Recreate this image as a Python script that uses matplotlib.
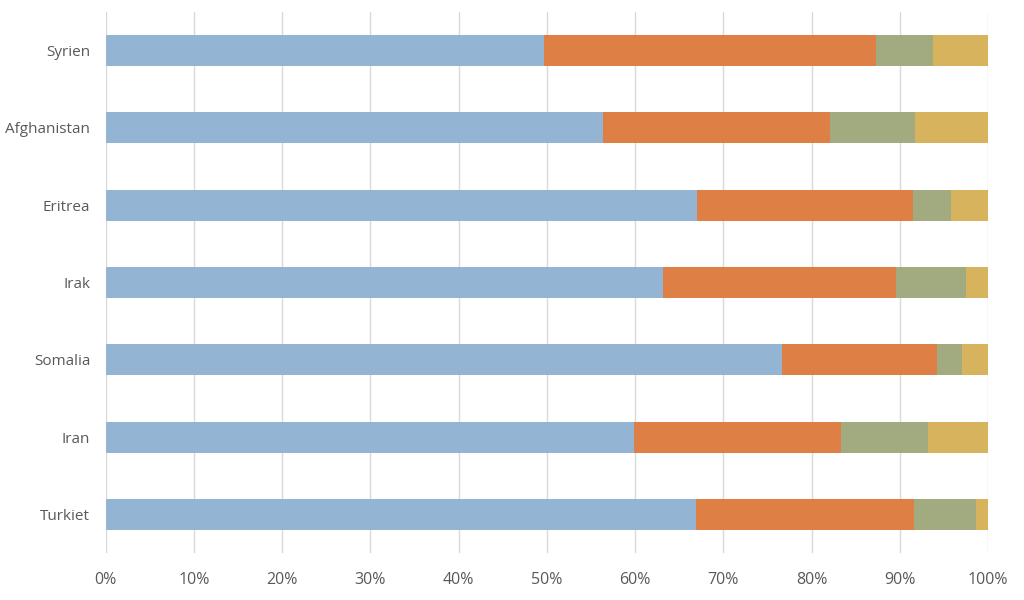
import numpy as np
import matplotlib.pyplot as plt
from matplotlib.ticker import PercentFormatter

plt.rcParams['font.family'] = ['Open Sans', 'DejaVu Sans']

# categories from top to bottom as in the picture
countries = ['Syrien', 'Afghanistan', 'Eritrea', 'Irak', 'Somalia', 'Iran', 'Turkiet']

# share per category (%)
serie_1 = [49.7, 56.4, 67.0, 63.2, 76.7, 59.9, 66.9]
serie_2 = [37.6, 25.7, 24.5, 26.4, 17.5, 23.4, 24.7]
serie_3 = [6.5, 9.6, 4.3, 7.9, 2.9, 9.9, 7.0]
serie_4 = [6.2, 8.3, 4.2, 2.5, 2.9, 6.8, 1.4]

colors = ['#93b5d3', '#de7f45', '#a2aa7f', '#d8b35e']

fig = plt.figure(figsize=(10.24, 6), dpi=100)
ax = fig.add_axes([105.5/1024, 47/600, 882.5/1024, 541/600])

y = np.arange(len(countries))
left = np.zeros(len(countries))
for vals, c in zip([serie_1, serie_2, serie_3, serie_4], colors):
    vals = np.array(vals)
    ax.barh(y, vals, left=left, height=0.4, color=c, zorder=3)
    left = left + vals

ax.set_xlim(0, 100)
ax.set_ylim(len(countries) - 0.5, -0.5)
ax.set_yticks(y)
ax.set_yticklabels(countries)
ax.set_xticks(np.arange(0, 101, 10))
ax.xaxis.set_major_formatter(PercentFormatter(decimals=0))

ax.grid(axis='x', color='#d9d9d9', linewidth=1, zorder=0)
for s in ax.spines.values():
    s.set_visible(False)
ax.tick_params(length=0, colors='#595959')
ax.tick_params(axis='x', pad=14, labelsize=11.5)
ax.tick_params(axis='y', pad=11, labelsize=11)

fig.savefig('out.png', dpi=100)
